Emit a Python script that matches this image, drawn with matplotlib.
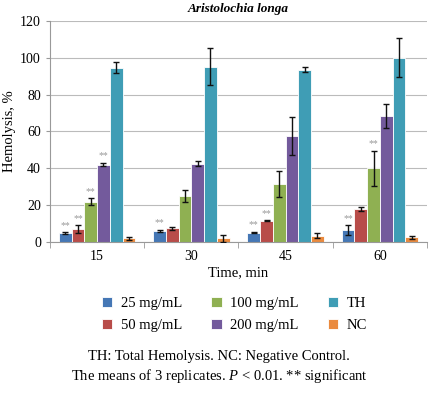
import numpy as np
import matplotlib
matplotlib.use("Agg")
import matplotlib.pyplot as plt

plt.rcParams["font.family"] = ["Liberation Serif", "DejaVu Serif"]
plt.rcParams["mathtext.fontset"] = "custom"
plt.rcParams["mathtext.it"] = "Liberation Serif:italic"
plt.rcParams["mathtext.rm"] = "Liberation Serif"

times = ["15", "30", "45", "60"]
series = ["25 mg/mL", "50 mg/mL", "100 mg/mL", "200 mg/mL", "TH", "NC"]
colors = ["#4577b5", "#b84c49", "#8fb052", "#735a9c", "#3f9db5", "#ea8a3e"]

means = {
    "25 mg/mL": [5.0, 6.0, 5.2, 6.5],
    "50 mg/mL": [7.0, 7.5, 11.5, 18.0],
    "100 mg/mL": [22.0, 25.0, 31.5, 40.0],
    "200 mg/mL": [42.0, 42.5, 57.5, 68.5],
    "TH": [94.5, 95.0, 93.5, 100.0],
    "NC": [2.0, 2.0, 3.5, 2.5],
}
errors = {
    "25 mg/mL": [0.5, 0.7, 0.5, 2.5],
    "50 mg/mL": [2.0, 0.8, 0.3, 1.0],
    "100 mg/mL": [2.0, 3.0, 7.0, 9.5],
    "200 mg/mL": [1.0, 1.5, 10.5, 6.5],
    "TH": [3.0, 10.0, 1.5, 10.5],
    "NC": [1.0, 2.0, 1.5, 0.8],
}
# (series, time index) pairs marked ** significant
stars = [("25 mg/mL", 0), ("50 mg/mL", 0), ("100 mg/mL", 0), ("200 mg/mL", 0),
         ("25 mg/mL", 1),
         ("25 mg/mL", 2), ("50 mg/mL", 2),
         ("25 mg/mL", 3), ("100 mg/mL", 3)]

fig = plt.figure(figsize=(4.38, 3.93), dpi=100)
ax = fig.add_axes([0.114, 0.384, 0.861, 0.563])

x = np.arange(len(times))
w = 0.135
for i, (s, c) in enumerate(zip(series, colors)):
    pos = x + (i - 2.5) * w
    ax.bar(pos, means[s], width=w, color=c, edgecolor="white", linewidth=0.6,
           label=s, zorder=2)
    ax.errorbar(pos, means[s], yerr=errors[s], fmt="none", ecolor="#111111",
                elinewidth=1, capsize=2.5, capthick=1, zorder=3)

for s, t in stars:
    i = series.index(s)
    top = means[s][t] + errors[s][t]
    ax.text(x[t] + (i - 2.5) * w, top + 1.2, "**", ha="center", va="bottom",
            fontsize=7, color="#999999")

ax.set_xlim(-0.5, len(times) - 0.5)
ax.set_ylim(0, 120)
ax.set_yticks(range(0, 121, 20))
ax.set_xticks(x)
ax.set_xticklabels(times, fontsize=10)
ax.set_xticks(np.arange(-0.5, len(times)), minor=True)
ax.tick_params(axis="x", which="major", length=0, pad=6)
ax.tick_params(axis="x", which="minor", length=4, color="#999999")
ax.tick_params(axis="y", labelsize=10, length=3, color="#999999")
ax.grid(axis="y", color="#bbbbbb", lw=0.8, zorder=0)
for sp in ("top", "right"):
    ax.spines[sp].set_visible(False)
for sp in ("left", "bottom"):
    ax.spines[sp].set_color("#999999")

ax.set_title("Aristolochia longa", fontsize=9.5, style="italic", weight="bold", pad=6)
ax.set_ylabel("Hemolysis, %", fontsize=10.5, labelpad=3)
ax.set_xlabel("Time, min", fontsize=10.5, labelpad=2)

ax.legend(loc="upper center", bbox_to_anchor=(0.49, -0.19), ncol=3, frameon=False,
          fontsize=10.5, handlelength=0.7, handleheight=0.7, columnspacing=2.0,
          labelspacing=0.6, handletextpad=0.6)

fig.text(0.5, 0.093, "TH: Total Hemolysis. NC: Negative Control.", ha="center",
         va="center", fontsize=10.5)
fig.text(0.5, 0.043, "The means of 3 replicates. $P$ < 0.01. ** significant",
         ha="center", va="center", fontsize=10.5)

fig.savefig("out.png", dpi=100, facecolor="white")
